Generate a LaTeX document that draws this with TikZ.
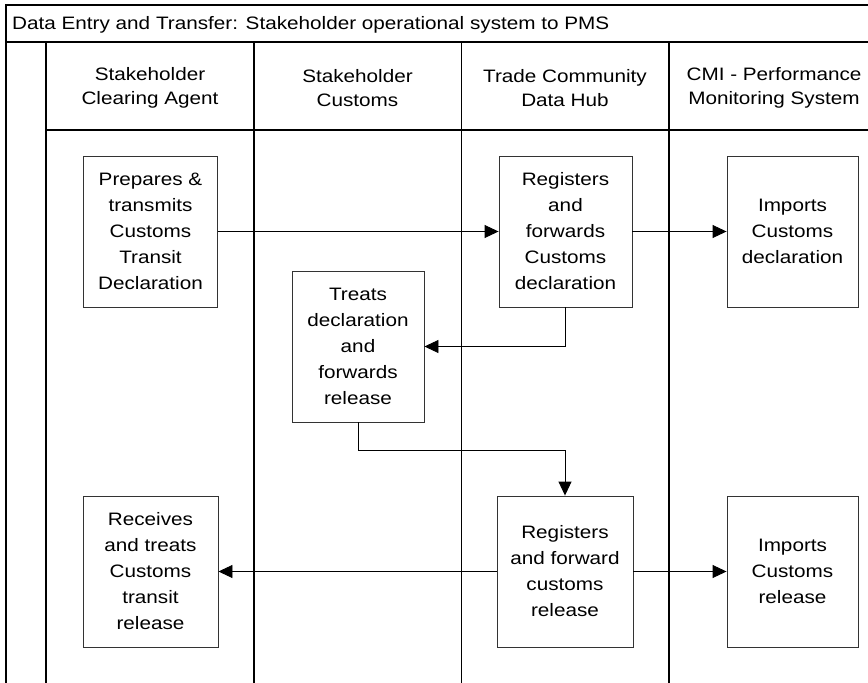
\documentclass[tikz,border=0pt]{standalone}
\usepackage{fontspec}
\setmainfont{Liberation Sans}[FakeStretch=1.15]
\usetikzlibrary{arrows.meta}
\begin{document}
\begin{tikzpicture}[x=1pt,y=-1pt,
  frame/.style={line width=1.3pt, black},
  lanehead/.style={align=center, font=\fontsize{18}{24}\selectfont, inner sep=0pt},
  stepbox/.style={draw=black!80, line width=0.9pt, minimum width=134pt,
    minimum height=151pt, align=center, inner sep=0pt,
    font=\fontsize{18}{26}\selectfont},
  flow/.style={line width=0.9pt, -{Triangle[length=14pt,width=13pt]}},
  ]
\useasboundingbox (0,0) rectangle (868,683);

% pool frame and title row
\draw[frame] (6,683) -- (6,5) -- (869,5);
\draw[line width=2pt] (6,41.5) -- (869,41.5);
\node[anchor=base west, font=\fontsize{18}{22}\selectfont, inner sep=0pt]
  (title) at (12,29) {Data Entry and Transfer: Stakeholder operational system to PMS};

% lanes
\draw[frame] (46,41.5) -- (46,683);
\draw[frame] (254,41.5) -- (254,683);
\draw[frame] (461.5,41.5) -- (461.5,683);
\draw[frame] (669,41.5) -- (669,683);
\draw[frame] (46,130) -- (869,130);

\node[lanehead] (h1) at (150,88) {Stakeholder\\Clearing Agent};
\node[lanehead] (h2) at (357.5,88) {Stakeholder\\Customs};
\node[lanehead] (h3) at (565,88) {Trade Community\\Data Hub};
\node[lanehead] (h4) at (774,88) {CMI - Performance\\Monitoring System};

% process steps
\node[stepbox] (prep) at (150.5,231.5) {Prepares \&\\transmits\\Customs\\Transit\\Declaration};
\node[stepbox, minimum width=133pt] (regdecl) at (565.5,231.5) {Registers\\and\\forwards\\Customs\\declaration};
\node[stepbox, minimum width=131pt] (impdecl) at (792.5,231.5) {Imports\\Customs\\declaration};
\node[stepbox, minimum width=132pt] (treat) at (358,346.5) {Treats\\declaration\\and\\forwards\\release};
\node[stepbox, minimum width=135pt] (recv) at (150.5,571.5) {Receives\\and treats\\Customs\\transit\\release};
\node[stepbox, minimum width=136pt] (regrel) at (565,571.5) {Registers\\and forward\\customs\\release};
\node[stepbox, minimum width=131pt] (imprel) at (792.5,571.5) {Imports\\Customs\\release};

% message flow
\draw[flow] (prep.east) -- (regdecl.west);
\draw[flow] (regdecl.east) -- (impdecl.west);
\draw[flow] (regdecl.south) |- (treat.east);
\draw[flow] (treat.south) -- ++(0,28) -| (regrel.north);
\draw[flow] (regrel.west) -- (recv.east);
\draw[flow] (regrel.east) -- (imprel.west);
\end{tikzpicture}
\end{document}
